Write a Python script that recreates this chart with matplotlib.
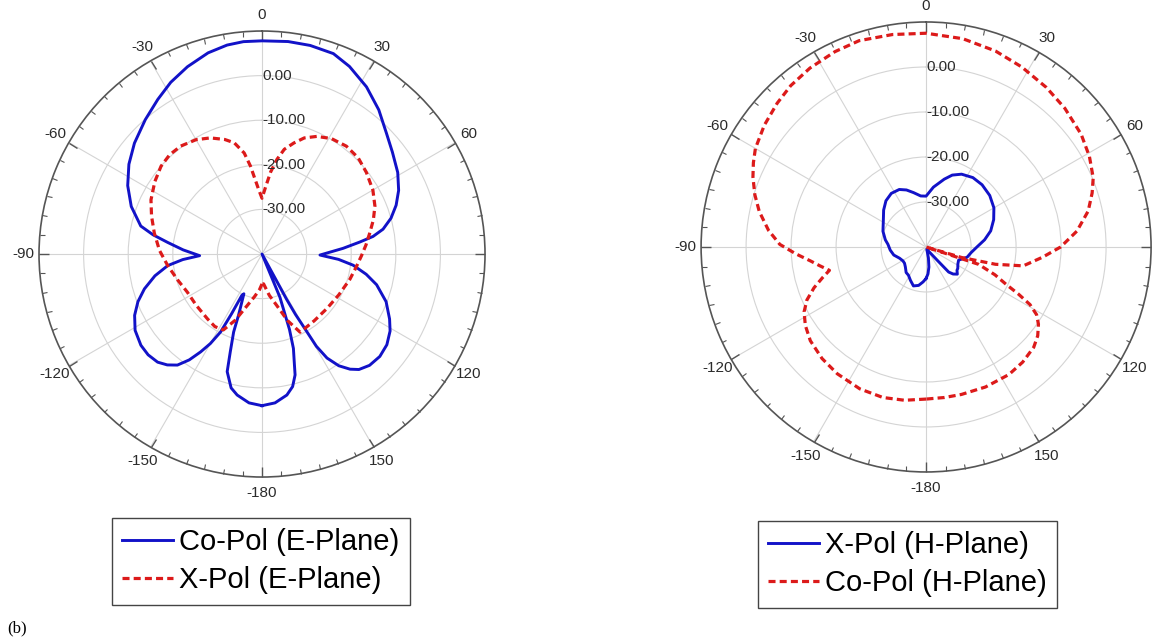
import numpy as np
import matplotlib.pyplot as plt

plt.rcParams['font.family'] = ['Liberation Sans', 'DejaVu Sans']

# E-plane (left), angle in degrees, gain in dB
co_e_theta = [-180, -175, -170, -167, -163.5, -162, -160, -159, -155.5, -154, -153, -152, -150,
              -147.9, -145.5, -142.7, -139.5, -136, -131.5, -127, -121, -115.7, -111, -106.5,
              -101.5, -97, -94, -91.5, -87, -83, -80, -77, -70, -63, -56, -49, -41, -34, -28,
              -21.7, -15, -9.5, -5, 0, 7, 13, 19.6, 25, 32, 39, 45.8, 52, 59, 65, 70, 74.5, 78.4,
              81, 83, 86, 91, 94, 97, 101, 105, 111, 117, 121, 126, 131, 136, 140, 142.6, 145.5,
              148, 149.5, 150, 151, 151.5, 153, 157.5, 160, 161.6, 163.5, 164.7, 167, 170, 175, 180]
co_e_db = [-6.0, -6.5, -7.9, -9.2, -12.5, -17.0, -21.4, -25.3, -30.2, -29.7, -25.0, -20.2, -16.8,
           -14.1, -11.2, -8.7, -7.3, -6.3, -5.9, -6.0, -6.8, -8.3, -10.2, -12.5,
           -15.5, -18.7, -22.2, -26.0, -22.3, -18.7, -15.2, -12.1, -8.8, -6.2, -4.0, -2.1, -0.1, 1.8, 3.6,
           5.2, 6.7, 7.5, 7.8, 7.8, 8.0, 8.0, 7.7, 6.4, 4.2, 1.6, -1.1, -2.9, -4.5, -6.2, -8.0, -10.0, -12.3,
           -14.8, -17.9, -21.8, -27.0, -22.8, -19.4, -16.2, -13.4, -10.2, -7.9, -6.5, -5.4, -5.0, -5.3, -6.2, -7.5, -9.6,
           -12.5, -16.0, -19.9, -24.5, -28.5, -40, -29.5, -22.0, -17.7, -14.5, -11.9, -9.5, -7.9, -6.5, -6.0]

x_e_theta = [-180, -176, -170, -164, -158, -153, -147, -140, -128, -117, -107, -97, -88, -79, -71,
             -64, -56, -49, -43, -37, -30, -24, -18, -14, -10, -7.5, -3, 0, 3, 6, 9, 12, 16, 20,
             25, 31, 38, 45, 52, 60, 67, 73, 79, 85, 91, 98, 106, 118, 130, 142, 154, 159, 164,
             170, 177, 180]
x_e_db = [-33.3, -32.0, -30.3, -28.0, -24.0, -20.9, -20.6, -21.0, -21.3, -21.2, -20.2, -18.7, -17.0,
          -15.4, -13.8, -12.3, -11.0, -10.0, -9.6, -9.7, -10.4, -11.5, -13.0, -14.3, -17.0, -20.1,
          -25.5, -27.5, -25.0, -21.5, -18.5, -16.0, -14.1, -12.3, -10.9, -9.8, -9.3, -9.5, -10.3,
          -11.3, -12.5, -13.9, -15.4, -16.6, -17.7, -18.7, -19.5, -20.5, -21.0, -21.0, -20.5, -24.0,
          -28.0, -30.6, -33.3, -33.3]

# H-plane (right)
x_h_theta = [-180, -175, -169, -162, -155, -148, -142, -134, -127, -121, -113, -104, -95, -86,
             -80, -70, -58, -49, -41, -33, -25, -19, -13, -6, 0, 7, 15, 20, 26, 34, 42, 51, 60,
             68, 76, 83, 90, 97, 104, 108, 112, 118, 124, 127, 131, 135, 138, 140, 148, 162, 168,
             172, 176, 180]
x_h_db = [-33.0, -32.2, -31.3, -30.9, -31.8, -32.6, -32.8, -33.6, -34.0, -34.0, -33.6, -32.6, -32.0,
          -31.5, -30.8, -29.8, -28.8, -27.5, -26.4, -25.8, -25.9, -26.6, -27.6, -28.6, -28.7, -26.6,
          -24.4, -23.0, -22.0, -21.4, -21.4, -21.8, -22.6, -23.8, -25.2, -26.9, -28.7, -29.9, -30.6,
          -31.5, -32.2, -32.0, -31.5, -31.4, -30.8, -31.5, -32.5, -36.2, -38.8, -39.5, -37.5, -35.5,
          -34.0, -33.0]

co_h_theta = [-180, -172, -164, -155, -145, -137, -129, -123, -118, -114, -110, -106.5, -103.6,
              -100, -97, -93, -89, -84, -78, -73, -68, -64, -60, -53, -46, -40, -33, -25, -18, -9,
              0, 10, 19.5, 28, 37, 45, 54, 61, 67.5, 72, 77.5, 84, 90, 95, 101, 104, 106.5, 107.5,
              108.3, 112, 115, 117, 119, 121.5, 124.5, 128.5, 133, 140, 147, 157, 166.5, 173, 180]
co_h_db = [-6.2, -5.6, -5.2, -5.2, -5.6, -6.1, -6.9, -8.0, -9.3, -11.0, -13.5, -16.0, -17.9,
           -16.0, -14.2, -11.0, -7.5, -4.8, -2.1, -0.2, 1.5, 2.7, 3.8, 5.0, 6.0, 6.8, 7.4, 7.9, 8.2, 7.8,
           7.5, 7.0, 6.2, 5.3, 4.4, 3.6, 2.6, 1.5, 0.2, -1.2, -3.1, -6.3, -10.1, -14.0, -18.0, -24.1, -31.8, -40,
           -27.7, -23.5, -20.4, -17.0, -13.6, -11.2, -9.7, -8.3, -7.3, -6.6, -6.2, -6.2, -6.3, -6.3, -6.2]

rings = [-30, -20, -10, 0]
angle_ticks = [0, 30, 60, 120, 150, 180, 210, 240, 270, 300, 330]
angle_labels = ['0', '30', '60', '120', '150', '-180', '-150', '-120', '-90', '-60', '-30']

blue = '#1212c8'
red = '#dc1a1a'

fig = plt.figure(figsize=(11.54, 6.41), dpi=100)
ax1 = fig.add_axes([0.0338, 0.2558, 0.3865, 0.6958], projection='polar')
ax2 = fig.add_axes([0.6075, 0.2637, 0.3900, 0.7020], projection='polar')


def setup(ax):
    ax.set_theta_zero_location('N')
    ax.set_theta_direction(-1)
    ax.set_ylim(-40, 10)
    ax.set_yticks(rings)
    ax.set_yticklabels([])
    ax.set_xticks(np.deg2rad(np.arange(0, 360, 30)))
    ax.set_xticklabels([])
    ax.set_xticks(np.deg2rad(np.arange(0, 360, 5)), minor=True)
    ax.tick_params(axis='x', which='both', top=True, bottom=False)
    ax.tick_params(axis='x', which='major', direction='in', length=7, width=1, color='#555555')
    ax.tick_params(axis='x', which='minor', direction='in', length=3.5, width=0.8, color='#555555')
    ax.grid(True, color='#d4d4d4', lw=0.8)
    ax.spines['polar'].set_color('#555555')
    ax.spines['polar'].set_linewidth(1.2)
    for a, lab in zip(angle_ticks, angle_labels):
        ax.text(np.deg2rad(a), 13.6, lab, ha='center', va='center', fontsize=11, color='#2b2b2b')
    for v in rings:
        ax.text(0, v, f'{v:.2f}', ha='left', va='center', fontsize=11, color='#2b2b2b')


setup(ax1)
setup(ax2)

l1, = ax1.plot(np.deg2rad(co_e_theta), co_e_db, color=blue, lw=2.1)
l2, = ax1.plot(np.deg2rad(x_e_theta), x_e_db, color=red, lw=2.3, dashes=(2.2, 1.3))
l3, = ax2.plot(np.deg2rad(x_h_theta), x_h_db, color=blue, lw=2.1)
l4, = ax2.plot(np.deg2rad(co_h_theta), co_h_db, color=red, lw=2.3, dashes=(2.2, 1.3))

leg_kw = dict(loc='upper left', bbox_transform=fig.transFigure, borderaxespad=0, fontsize=21,
              handlelength=1.75, handletextpad=0.2, borderpad=0.35, labelspacing=0.35,
              fancybox=False, edgecolor='#444444', framealpha=1)
leg1 = fig.legend([l1, l2], ['Co-Pol (E-Plane)', 'X-Pol (E-Plane)'],
                  bbox_to_anchor=(0.0971, 0.1919), **leg_kw)
leg2 = fig.legend([l3, l4], ['X-Pol (H-Plane)', 'Co-Pol (H-Plane)'],
                  bbox_to_anchor=(0.6568, 0.1872), **leg_kw)
for leg in (leg1, leg2):
    leg.get_frame().set_linewidth(1.0)

fig.text(0.006, 0.02, '(b)', fontsize=12, family='Liberation Serif', va='center')

fig.savefig('out.png', dpi=100)
